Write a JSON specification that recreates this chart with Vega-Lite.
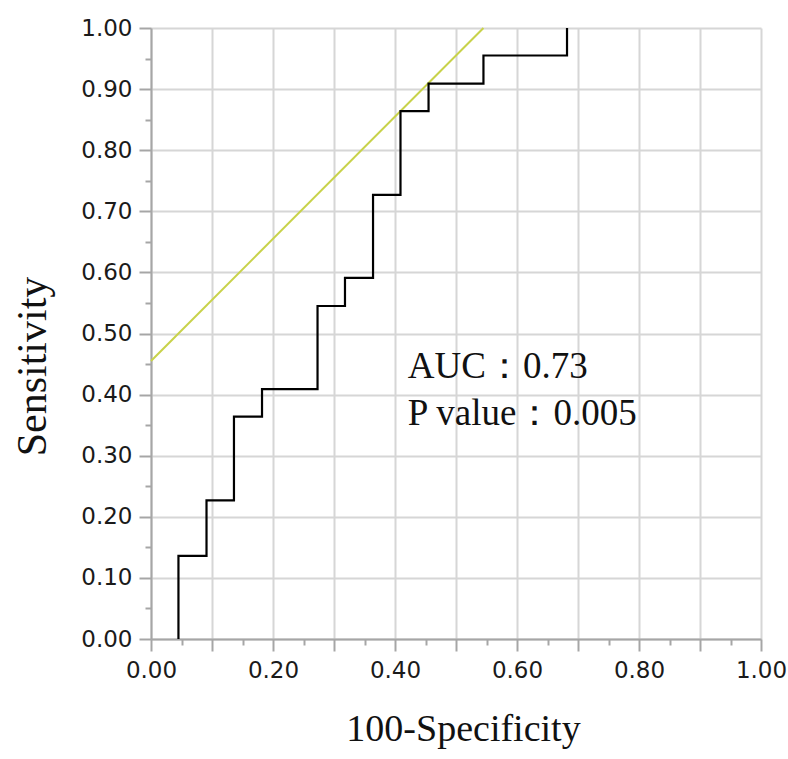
{
  "$schema": "https://vega.github.io/schema/vega-lite/v6.json",
  "width": 610,
  "height": 611,
  "autosize": {"type": "none"},
  "padding": {"left": 151, "top": 28, "right": 27, "bottom": 120},
  "background": "white",
  "config": {
    "view": {"stroke": null},
    "axis": {
      "labelFont": "DejaVu Sans",
      "labelFontSize": 23,
      "labelColor": "#1a1a1a",
      "domainColor": "#a6a6a6",
      "domainWidth": 2,
      "tickColor": "#a6a6a6",
      "tickWidth": 2,
      "gridColor": "#d6d6d6",
      "gridWidth": 2,
      "titleFont": "Liberation Serif",
      "titleFontWeight": "normal",
      "titleColor": "#111111"
    }
  },
  "datasets": {
    "roc": [
      {"i": 0, "fpr": 0.045, "tpr": 0.0},
      {"i": 1, "fpr": 0.045, "tpr": 0.136},
      {"i": 2, "fpr": 0.091, "tpr": 0.136},
      {"i": 3, "fpr": 0.091, "tpr": 0.227},
      {"i": 4, "fpr": 0.136, "tpr": 0.227},
      {"i": 5, "fpr": 0.136, "tpr": 0.364},
      {"i": 6, "fpr": 0.182, "tpr": 0.364},
      {"i": 7, "fpr": 0.182, "tpr": 0.409},
      {"i": 8, "fpr": 0.273, "tpr": 0.409},
      {"i": 9, "fpr": 0.273, "tpr": 0.545},
      {"i": 10, "fpr": 0.318, "tpr": 0.545},
      {"i": 11, "fpr": 0.318, "tpr": 0.591},
      {"i": 12, "fpr": 0.364, "tpr": 0.591},
      {"i": 13, "fpr": 0.364, "tpr": 0.727},
      {"i": 14, "fpr": 0.409, "tpr": 0.727},
      {"i": 15, "fpr": 0.409, "tpr": 0.864},
      {"i": 16, "fpr": 0.455, "tpr": 0.864},
      {"i": 17, "fpr": 0.455, "tpr": 0.909},
      {"i": 18, "fpr": 0.545, "tpr": 0.909},
      {"i": 19, "fpr": 0.545, "tpr": 0.955},
      {"i": 20, "fpr": 0.682, "tpr": 0.955},
      {"i": 21, "fpr": 0.682, "tpr": 1.0}
    ],
    "tangent": [
      {"fpr": 0.0, "tpr": 0.455},
      {"fpr": 0.545, "tpr": 1.0}
    ],
    "notes": [
      {"label": "AUC：0.73", "fpr": 0.421, "tpr": 0.427},
      {"label": "P value：0.005", "fpr": 0.421, "tpr": 0.35}
    ]
  },
  "layer": [
    {
      "data": {"name": "tangent"},
      "mark": {"type": "line", "color": "#c8d24a", "strokeWidth": 2},
      "encoding": {
        "x": {
          "field": "fpr", "type": "quantitative",
          "scale": {"domain": [0, 1], "nice": false, "zero": false},
          "axis": {
            "orient": "bottom",
            "title": "100-Specificity",
            "titleFontSize": 38,
            "titlePadding": 28,
            "titleX": 312,
            "values": [0, 0.1, 0.2, 0.3, 0.4, 0.5, 0.6, 0.7, 0.8, 0.9, 1.0],
            "labelExpr": "round(datum.value*10) % 2 == 0 ? format(datum.value, '.2f') : ''",
            "tickSize": 12,
            "labelPadding": 8,
            "grid": true,
            "labelFlush": false,
            "labelOverlap": false
          }
        },
        "y": {
          "field": "tpr", "type": "quantitative",
          "scale": {"domain": [0, 1], "nice": false, "zero": false},
          "axis": {
            "orient": "left",
            "title": "Sensitivity",
            "titleFontSize": 42,
            "titlePadding": 26,
            "titleY": 338,
            "values": [0, 0.1, 0.2, 0.3, 0.4, 0.5, 0.6, 0.7, 0.8, 0.9, 1.0],
            "format": ".2f",
            "tickSize": 12,
            "labelPadding": 7,
            "grid": true,
            "labelFlush": false,
            "labelOverlap": false
          }
        }
      }
    },
    {
      "data": {"name": "roc"},
      "mark": {"type": "line", "color": "#000000", "strokeWidth": 2.2},
      "encoding": {
        "x": {
          "field": "fpr", "type": "quantitative",
          "axis": {
            "orient": "bottom",
            "title": null,
            "values": [0.05, 0.15, 0.25, 0.35, 0.45, 0.55, 0.65, 0.75, 0.85, 0.95],
            "labels": false,
            "grid": false,
            "domain": false,
            "tickSize": 6
          }
        },
        "y": {
          "field": "tpr", "type": "quantitative",
          "axis": {
            "orient": "left",
            "title": null,
            "values": [0.05, 0.15, 0.25, 0.35, 0.45, 0.55, 0.65, 0.75, 0.85, 0.95],
            "labels": false,
            "grid": false,
            "domain": false,
            "tickSize": 6
          }
        },
        "order": {"field": "i", "type": "quantitative"}
      }
    },
    {
      "data": {"name": "notes"},
      "mark": {"type": "text", "font": "Liberation Serif", "fontSize": 37, "align": "left", "baseline": "alphabetic", "color": "#111111"},
      "encoding": {
        "x": {"field": "fpr", "type": "quantitative", "axis": null},
        "y": {"field": "tpr", "type": "quantitative", "axis": null},
        "text": {"field": "label"}
      }
    }
  ],
  "resolve": {"axis": {"x": "independent", "y": "independent"}}
}
